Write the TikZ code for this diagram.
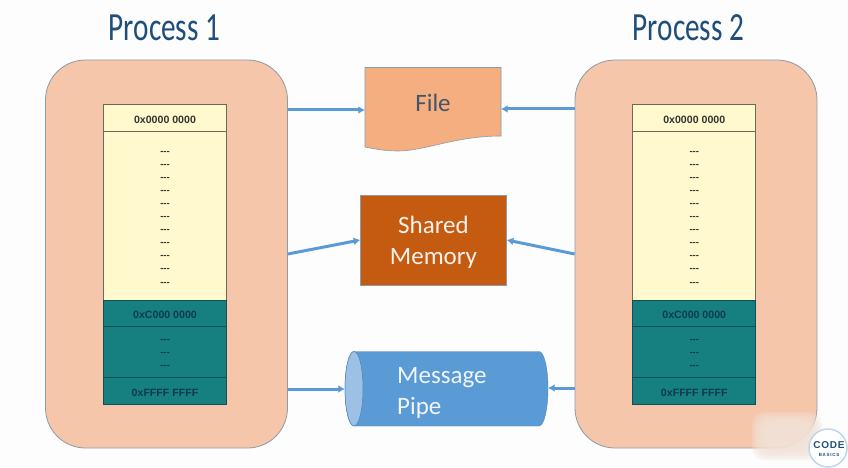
\documentclass[tikz,border=0pt]{standalone}
\usepackage{fontspec}
\setmainfont{Carlito}
\newfontfamily\memfont{Liberation Sans}
\usetikzlibrary{arrows.meta}
\definecolor{pagebg}{HTML}{FDFDFD}
\definecolor{peach}{HTML}{F6C6AB}
\definecolor{procedge}{HTML}{8E9AA8}
\definecolor{memyellow}{HTML}{FFF9CD}
\definecolor{memteal}{HTML}{15807F}
\definecolor{memedge}{HTML}{6B6B55}
\definecolor{tealedge}{HTML}{0F4F55}
\definecolor{tealtext}{HTML}{103A4C}
\definecolor{filefill}{HTML}{F4AE80}
\definecolor{rust}{HTML}{C55A11}
\definecolor{pipeblue}{HTML}{5B9BD5}
\definecolor{pipelight}{HTML}{9DC0E6}
\definecolor{titleblue}{HTML}{1F4E79}
\definecolor{darktext}{HTML}{44546A}
\definecolor{smudge}{HTML}{F2E2D8}
\tikzset{
  x=1pt,y=-1pt,
  procbox/.style={draw=procedge,line width=0.8pt,fill=peach,rounded corners=40pt,minimum width=242pt,minimum height=388pt,inner sep=0pt},
  yrow/.style={draw=memedge,line width=0.8pt,fill=memyellow,minimum width=123pt,inner sep=0pt,font=\memfont\bfseries\fontsize{10.6}{12}\selectfont,text=black!80},
  trow/.style={draw=tealedge,line width=0.8pt,fill=memteal,minimum width=123pt,inner sep=0pt,font=\memfont\bfseries\fontsize{10.6}{12}\selectfont,text=tealtext},
  dots/.style={inner sep=0pt,font=\memfont\bfseries\fontsize{9.5}{10}\selectfont},
  title/.style={inner sep=0pt,text=titleblue,font=\fontsize{37}{42}\selectfont},
  conn/.style={draw=pipeblue,line width=3pt,-{Latex[length=6.5pt,width=8pt]}},
  lbl/.style={inner sep=0pt,font=\fontsize{25}{31}\selectfont,align=center},
}
\newcommand{\lowered}[2][2pt]{\raisebox{-#1}[\height][\depth]{#2}}
\newcommand{\memstack}[2]{%
  \node[yrow,minimum height=27pt] (#2a) at (#1,117.5) {\lowered{0x0000 0000}};
  \node[yrow,minimum height=169pt] (#2b) at (#1,215.5) {};
  \foreach \yy/\nn in {152.5/1,165.5/2,178.5/3,191.5/4,204.5/5,217.5/6,230.5/7,243.5/8,256.5/9,269.5/10,283.5/11}
    \node[dots,text=black!80] (#2d\nn) at (#1,\yy) {{-}{-}{-}};
  \node[trow,minimum height=26pt] (#2c) at (#1,313) {\lowered{0xC000 0000}};
  \node[trow,minimum height=51pt] (#2e) at (#1,351.5) {};
  \foreach \yy/\nn in {340.5/1,353.5/2,366.5/3}
    \node[dots,text=tealtext] (#2f\nn) at (#1,\yy) {{-}{-}{-}};
  \node[trow,minimum height=27pt] (#2g) at (#1,390.5) {\lowered{0xFFFF FFFF}};
}
\begin{document}
\begin{tikzpicture}
\useasboundingbox[fill=pagebg] (0,0) rectangle (848,468);
\node[title] (t1) at (164.5,28) {\scalebox{0.79}[1.08]{Process 1}};
\node[title] (t2) at (688.5,28) {\scalebox{0.79}[1.08]{Process 2}};
\node[procbox] (p1) at (166.5,254) {};
\node[procbox] (p2) at (696,254) {};
\memstack{165}{m}
\memstack{694.25}{n}
% file
\draw[draw=procedge,line width=0.6pt,fill=filefill] (365,67.5) -- (501,67.5) -- (501,136)
  .. controls (455,136) and (425,151) .. (398,151) .. controls (385,151) and (375,149) .. (365,147) -- cycle;
\node[lbl,text=darktext,minimum width=136pt,minimum height=71pt] (file) at (433,103) {File};
% shared memory
\node[lbl,draw=procedge,line width=0.6pt,fill=rust,text=white!92!rust,minimum width=146pt,minimum height=90pt] (mem) at (433.5,240) {\lowered[3pt]{\begin{tabular}{@{}c@{}}Shared\\Memory\end{tabular}}};
% pipe
\fill[pipeblue,draw=pipeblue!85!black,line width=0.4pt] (354,351.5) -- (539,351.5)
  .. controls (544,351.5) and (548,368) .. (548,388.7) .. controls (548,409) and (544,426) .. (539,426)
  -- (354,426) .. controls (349,426) and (345,409) .. (345,388.7)
  .. controls (345,368) and (349,351.5) .. (354,351.5) -- cycle;
\draw[pipeblue!85!black,fill=pipelight,line width=0.5pt] (354,351.5) .. controls (359,351.5) and (363,368) .. (363,388.7)
  .. controls (363,409) and (359,426) .. (354,426) .. controls (349,426) and (345,409) .. (345,388.7)
  .. controls (345,368) and (349,351.5) .. (354,351.5) -- cycle;
\node[minimum width=203pt,minimum height=74.5pt,inner sep=0pt] (pipe) at (446.5,388.7) {};
\node[lbl,text=white!90!pipeblue,align=left,anchor=west] (pipetext) at (397,392.5) {Message\\Pipe};
% connectors
\coordinate (a1) at (p1.east |- 0,110);
\coordinate (a2) at (p2.west |- 0,109);
\coordinate (a3) at (p1.east |- 0,389);
\coordinate (a4) at (p2.west |- 0,388);
\draw[conn] (a1) -- (file.west |- a1);
\draw[conn] (a2) -- (file.east |- a2);
\draw[conn] (p1.east) -- (mem.west);
\draw[conn] (p2.west) -- (mem.east);
\draw[conn] (a3) -- (pipe.west |- a3);
\draw[conn] (a4) -- (pipe.east |- a4);
% watermark smudge and logo
\foreach \i in {0,...,6}
  \fill[smudge,opacity=0.3,rounded corners=12pt] (752+\i*2,412+\i*2) rectangle (822-\i*2,460-\i*2);
\node[circle,draw=pipeblue!40,line width=1.5pt,fill=white,minimum size=38pt,inner sep=0pt] (logo) at (828,448) {};
\node[inner sep=0pt,text=titleblue,font=\memfont\bfseries\fontsize{10}{10}\selectfont] (logo1) at (829,445) {C\kern0.8pt O\kern0.8pt D\kern0.8pt E};
\node[inner sep=0pt,text=titleblue,font=\memfont\bfseries\fontsize{4.5}{5}\selectfont] (logo2) at (829,455) {B\kern0.7pt A\kern0.7pt S\kern0.7pt I\kern0.7pt C\kern0.7pt S};
\end{tikzpicture}
\end{document}
